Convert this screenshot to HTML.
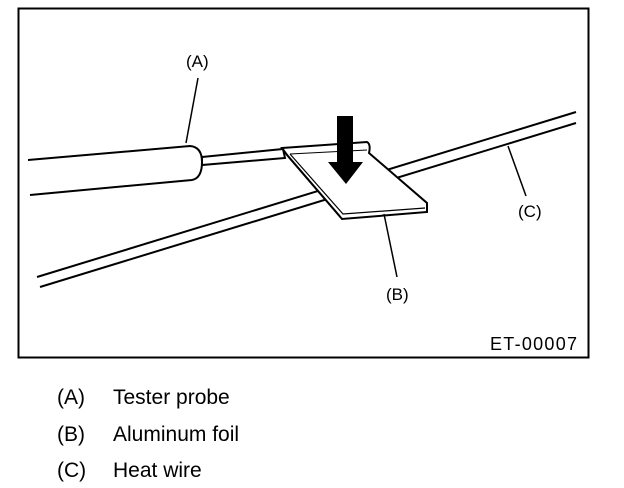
<!DOCTYPE html>
<html><head><style>
body{margin:0;background:#fff;width:624px;height:488px;overflow:hidden;font-family:"Liberation Sans",Arial,sans-serif}
.l{position:absolute;font-size:21px;color:#000}
</style></head><body>
<svg width="624" height="488" style="position:absolute;left:0;top:0" font-family="Liberation Sans, Arial, sans-serif">
<rect x="18.5" y="8.5" width="570" height="349" fill="none" stroke="#000" stroke-width="2"/>
<g stroke="#000" stroke-width="2" fill="none">
<line x1="37" y1="277" x2="576" y2="112"/>
<line x1="40" y1="287" x2="576" y2="123"/>
</g>
<path d="M28,160 L190,146 Q202,147 202,162 Q202,178 192,180 L30,195" fill="#fff" stroke="#000" stroke-width="2"/>
<path d="M202,157 L283,149 L285,158 L202,165 Z" fill="#fff" stroke="#000" stroke-width="2"/>
<path d="M282,148 L367,142 Q371,144 369,153 L427,203 L427,212 L342,219 L287,155 Z" fill="#fff" stroke="#000" stroke-width="2"/>
<path d="M285,152 L340,216 M290,154 L343,214 L425,208" fill="none" stroke="#000" stroke-width="1.2"/>
<path d="M290,154 L367,150" fill="none" stroke="#000" stroke-width="1"/>
<path d="M337,116 L353,116 L353,162 L363,162 L346,184 L328,162 L337,162 Z" fill="#000"/>
<g stroke="#000" stroke-width="1.5">
<line x1="186" y1="143" x2="198" y2="78"/>
<line x1="508" y1="146" x2="526" y2="196"/>
<line x1="384" y1="214" x2="397" y2="277"/>
</g>
<g font-size="17" fill="#000">
<text x="186" y="67">(A)</text>
<text x="518" y="217">(C)</text>
<text x="386" y="300">(B)</text>
<text x="490" y="350" font-size="18" textLength="87">ET-00007</text>
</g>
</svg>
<div class="l" style="left:57px;top:386px">(A)</div><div class="l" style="left:113px;top:386px">Tester probe</div>
<div class="l" style="left:57px;top:423px">(B)</div><div class="l" style="left:113px;top:423px">Aluminum foil</div>
<div class="l" style="left:57px;top:459px">(C)</div><div class="l" style="left:113px;top:459px">Heat wire</div>
</body></html>
